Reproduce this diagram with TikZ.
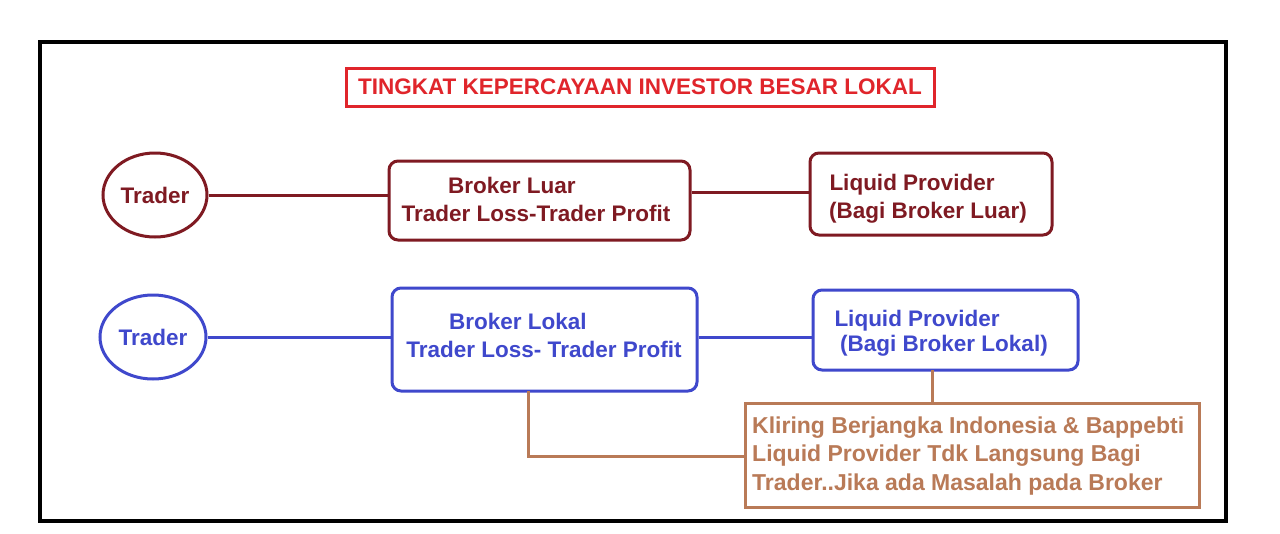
\documentclass[tikz,border=0pt]{standalone}
\usepackage{fontspec}
\setmainfont{Liberation Sans}
\usetikzlibrary{shapes.geometric}
\definecolor{dred}{HTML}{7F1A22}
\definecolor{tred}{HTML}{E0252B}
\definecolor{blu}{HTML}{3F48CC}
\definecolor{brn}{HTML}{B97A57}
\begin{document}
\begin{tikzpicture}[x=1pt,y=-1pt,
  txt/.style={font=\fontsize{22.5}{28}\selectfont\bfseries,inner sep=0},
  bx/.style={draw,line width=3pt,rounded corners=9pt,inner sep=0},
  el/.style={draw,line width=3pt,ellipse,inner sep=0},
  ln/.style={line width=3pt}]
\useasboundingbox (0,0) rectangle (1280,533);
\fill[white] (0,0) rectangle (1280,533);
\draw[line width=3.5pt] (40,42) rectangle (1226,521);
\node[draw=tred,line width=3pt,minimum width=588,minimum height=38,text=tred,txt] (title) at (640,87) {TINGKAT KEPERCAYAAN INVESTOR BESAR LOKAL};
% row 1
\begin{scope}[color=dred]
\node[el,minimum width=104,minimum height=84] (t1) at (155,195) {};
\node[txt] at (t1) {Trader};
\node[bx,minimum width=301,minimum height=79] (b1) at (539.5,200.5) {};
\node[txt] at (512,185) {Broker Luar};
\node[txt] at (536,213) {Trader Loss-Trader Profit};
\node[bx,minimum width=242,minimum height=82] (l1) at (931,194) {};
\node[txt] at (912,185) {Liquid Provider};
\node[txt] at (928,213) {(Bagi Broker Luar)};
\draw[ln] (t1.east) -- (t1.east -| b1.west);
\draw[ln] (b1.east |- 0,192) -- (l1.west |- 0,192);
\end{scope}
% row 2
\begin{scope}[color=blu]
\node[el,minimum width=106,minimum height=84] (t2) at (153,337) {};
\node[txt] at (t2) {Trader};
\node[bx,minimum width=305,minimum height=103] (b2) at (544.5,339.5) {};
\node[txt] at (518,321) {Broker Lokal};
\node[txt] at (544,349) {Trader Loss- Trader Profit};
\node[bx,minimum width=265,minimum height=80] (l2) at (945.5,330) {};
\node[txt] at (917,321) {Liquid Provider};
\node[txt] at (944,346) {(Bagi Broker Lokal)};
\draw[ln] (t2.east) -- (t2.east -| b2.west);
\draw[ln] (b2.east |- 0,337) -- (l2.west |- 0,337);
\end{scope}
% brown
\node[draw=brn,line width=3pt,minimum width=454,minimum height=104,inner sep=0] (k) at (972,455) {};
\node[txt,text=brn,align=left,anchor=west,font=\fontsize{23}{28.5}\selectfont\bfseries] at (752,456) {Kliring Berjangka Indonesia \& Bappebti\\Liquid Provider Tdk Langsung Bagi\\Trader..Jika ada Masalah pada Broker};
\coordinate (c1) at (528,391);
\draw[brn,ln] (c1) |- (k.west |- 0,456);
\draw[brn,ln] (932,370) -- (932,403);
\end{tikzpicture}
\end{document}
